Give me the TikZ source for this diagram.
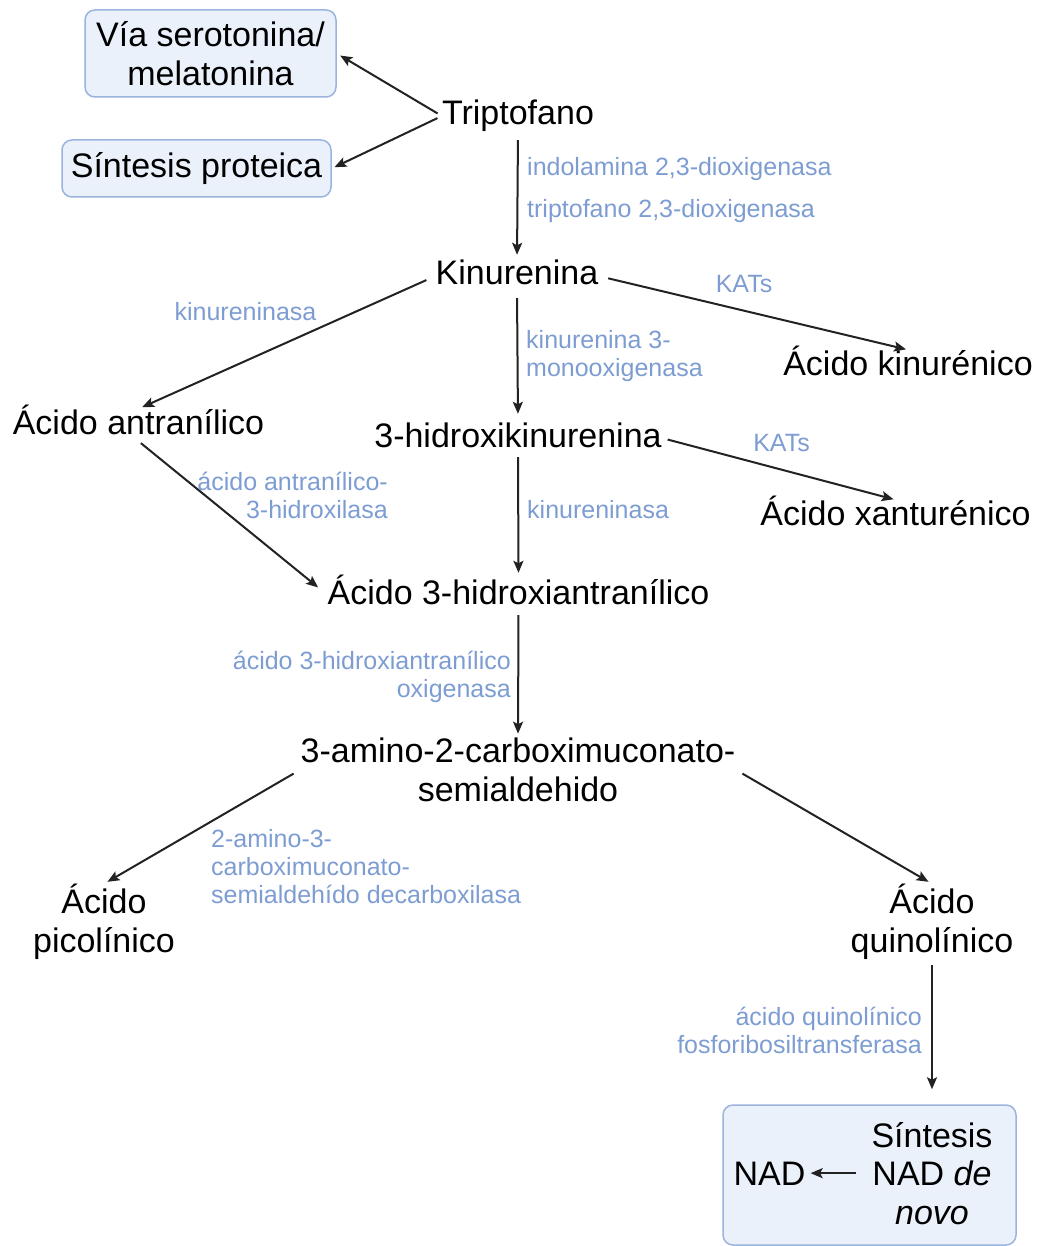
\documentclass[tikz,border=0pt]{standalone}
\usepackage{fontspec}
\setmainfont{Liberation Sans}
\usetikzlibrary{arrows.meta}
\definecolor{labc}{RGB}{125,157,210}
\definecolor{boxfill}{RGB}{234,241,251}
\definecolor{boxline}{RGB}{155,180,222}
\definecolor{arrc}{RGB}{34,34,34}
\newcommand{\mainsize}{\fontsize{34}{38.5}\selectfont}
\newcommand{\labsize}{\fontsize{25}{28}\selectfont}
\begin{document}
\begin{tikzpicture}[x=1pt,y=-1pt,
  txt/.style={font=\mainsize, inner sep=0pt, anchor=base, text height=25pt, text depth=7pt},
  mtxt/.style={font=\mainsize, inner sep=0pt, anchor=base, align=center},
  lab/.style={font=\labsize, text=labc, inner sep=0pt, anchor=base},
  box/.style={draw=boxline, fill=boxfill, line width=1.5pt, rounded corners=10pt},
  arr/.style={draw=arrc, line width=2pt, -{Stealth[length=12pt,width=10pt,inset=2.5pt]}},
]
\useasboundingbox (0,0) rectangle (1042,1246);
% boxes
\node[box, font=\mainsize, align=center, minimum width=251pt, minimum height=87pt, inner sep=0pt] (sero) at (210.5,53.5) {Vía serotonina/\\melatonina};
\node[box, font=\mainsize, minimum width=269pt, minimum height=57pt, inner sep=0pt] (prot) at (196.5,168.5) {Síntesis proteica};
\node[box, minimum width=293pt, minimum height=140pt] (nadbox) at (869.5,1175) {};
% main texts (multi-line nodes are placed at the baseline of their last line)
\node[txt] (trip) at (518,125) {Triptofano};
\node[txt] (kin) at (517,285) {Kinurenina};
\node[txt] (kyna) at (908,375) {Ácido kinurénico};
\node[txt] (antr) at (138.5,434) {Ácido antranílico};
\node[txt] (hk) at (518,447) {3-hidroxikinurenina};
\node[txt] (xa) at (895.5,525) {Ácido xanturénico};
\node[txt] (hant) at (518.5,604) {Ácido 3-hidroxiantranílico};
\node[mtxt] (acms) at (518,801) {3-amino-2-carboximuconato-\\semialdehido};
\node[mtxt] (pic) at (104,952) {Ácido\\picolínico};
\node[mtxt] (quin) at (932,952) {Ácido\\quinolínico};
\node[mtxt] (sint) at (932,1224) {Síntesis\\NAD \textit{de}\\\textit{novo}};
\node[txt] (nad) at (769.5,1185) {NAD};
% enzyme labels
\node[lab, anchor=base west] (l1) at (527,176) {indolamina 2,3-dioxigenasa};
\node[lab, anchor=base west] (l2) at (527,218) {triptofano 2,3-dioxigenasa};
\node[lab] (l3) at (245.5,320) {kinureninasa};
\node[lab] (l4) at (744,293) {KATs};
\node[lab, anchor=base west, align=left] (l5) at (526,376) {kinurenina 3-\\monooxigenasa};
\node[lab] (l6) at (781.5,451) {KATs};
\node[lab, anchor=base east, align=right] (l7) at (388,518) {ácido antranílico-\\3-hidroxilasa};
\node[lab, anchor=base west] (l8) at (527,518) {kinureninasa};
\node[lab, anchor=base east, align=right] (l9) at (511,697) {ácido 3-hidroxiantranílico\\oxigenasa};
\node[lab, anchor=base west, align=left] (l10) at (211,903) {2-amino-3-\\carboximuconato-\\semialdehído decarboxilasa};
\node[lab, anchor=base east, align=right] (l11) at (922,1053) {ácido quinolínico\\fosforibosiltransferasa};
% connectors
\draw[arr, shorten <=5pt, shorten >=4pt] (trip.west) -- (sero.east);
\draw[arr, shorten <=5pt, shorten >=3pt] (trip.west) -- (prot.east);
\draw[arr, shorten <=8pt, shorten >=5pt] (trip.south) -- (kin.north);
\draw[arr, shorten <=10pt, shorten >=4pt] (kin.west) -- (antr.north);
\draw[arr, shorten <=10pt, shorten >=2pt] (kin.east) -- (kyna.north);
\draw[arr, shorten <=6pt, shorten >=8pt] (kin.south) -- (hk.north);
\draw[arr, shorten <=6pt, shorten >=2pt] (hk.east) -- (xa.north);
\draw[arr, shorten <=3pt, shorten >=6pt] (hk.south) -- (hant.north);
\draw[arr, shorten <=3pt, shorten >=12pt] (antr.south) -- (hant.west);
\draw[arr, shorten <=4pt, shorten >=4pt] (hant.south) -- (acms.north);
\draw[arr, shorten <=8pt, shorten >=4pt] (acms.west) -- (pic.north);
\draw[arr, shorten <=8pt, shorten >=4pt] (acms.east) -- (quin.north);
\draw[arr, shorten <=6pt, shorten >=15pt] (quin.south) -- (quin.south |- nadbox.north);
\draw[arr, shorten <=15pt, shorten >=5pt] (sint.west) -- (sint.west -| nad.east);
\end{tikzpicture}
\end{document}
